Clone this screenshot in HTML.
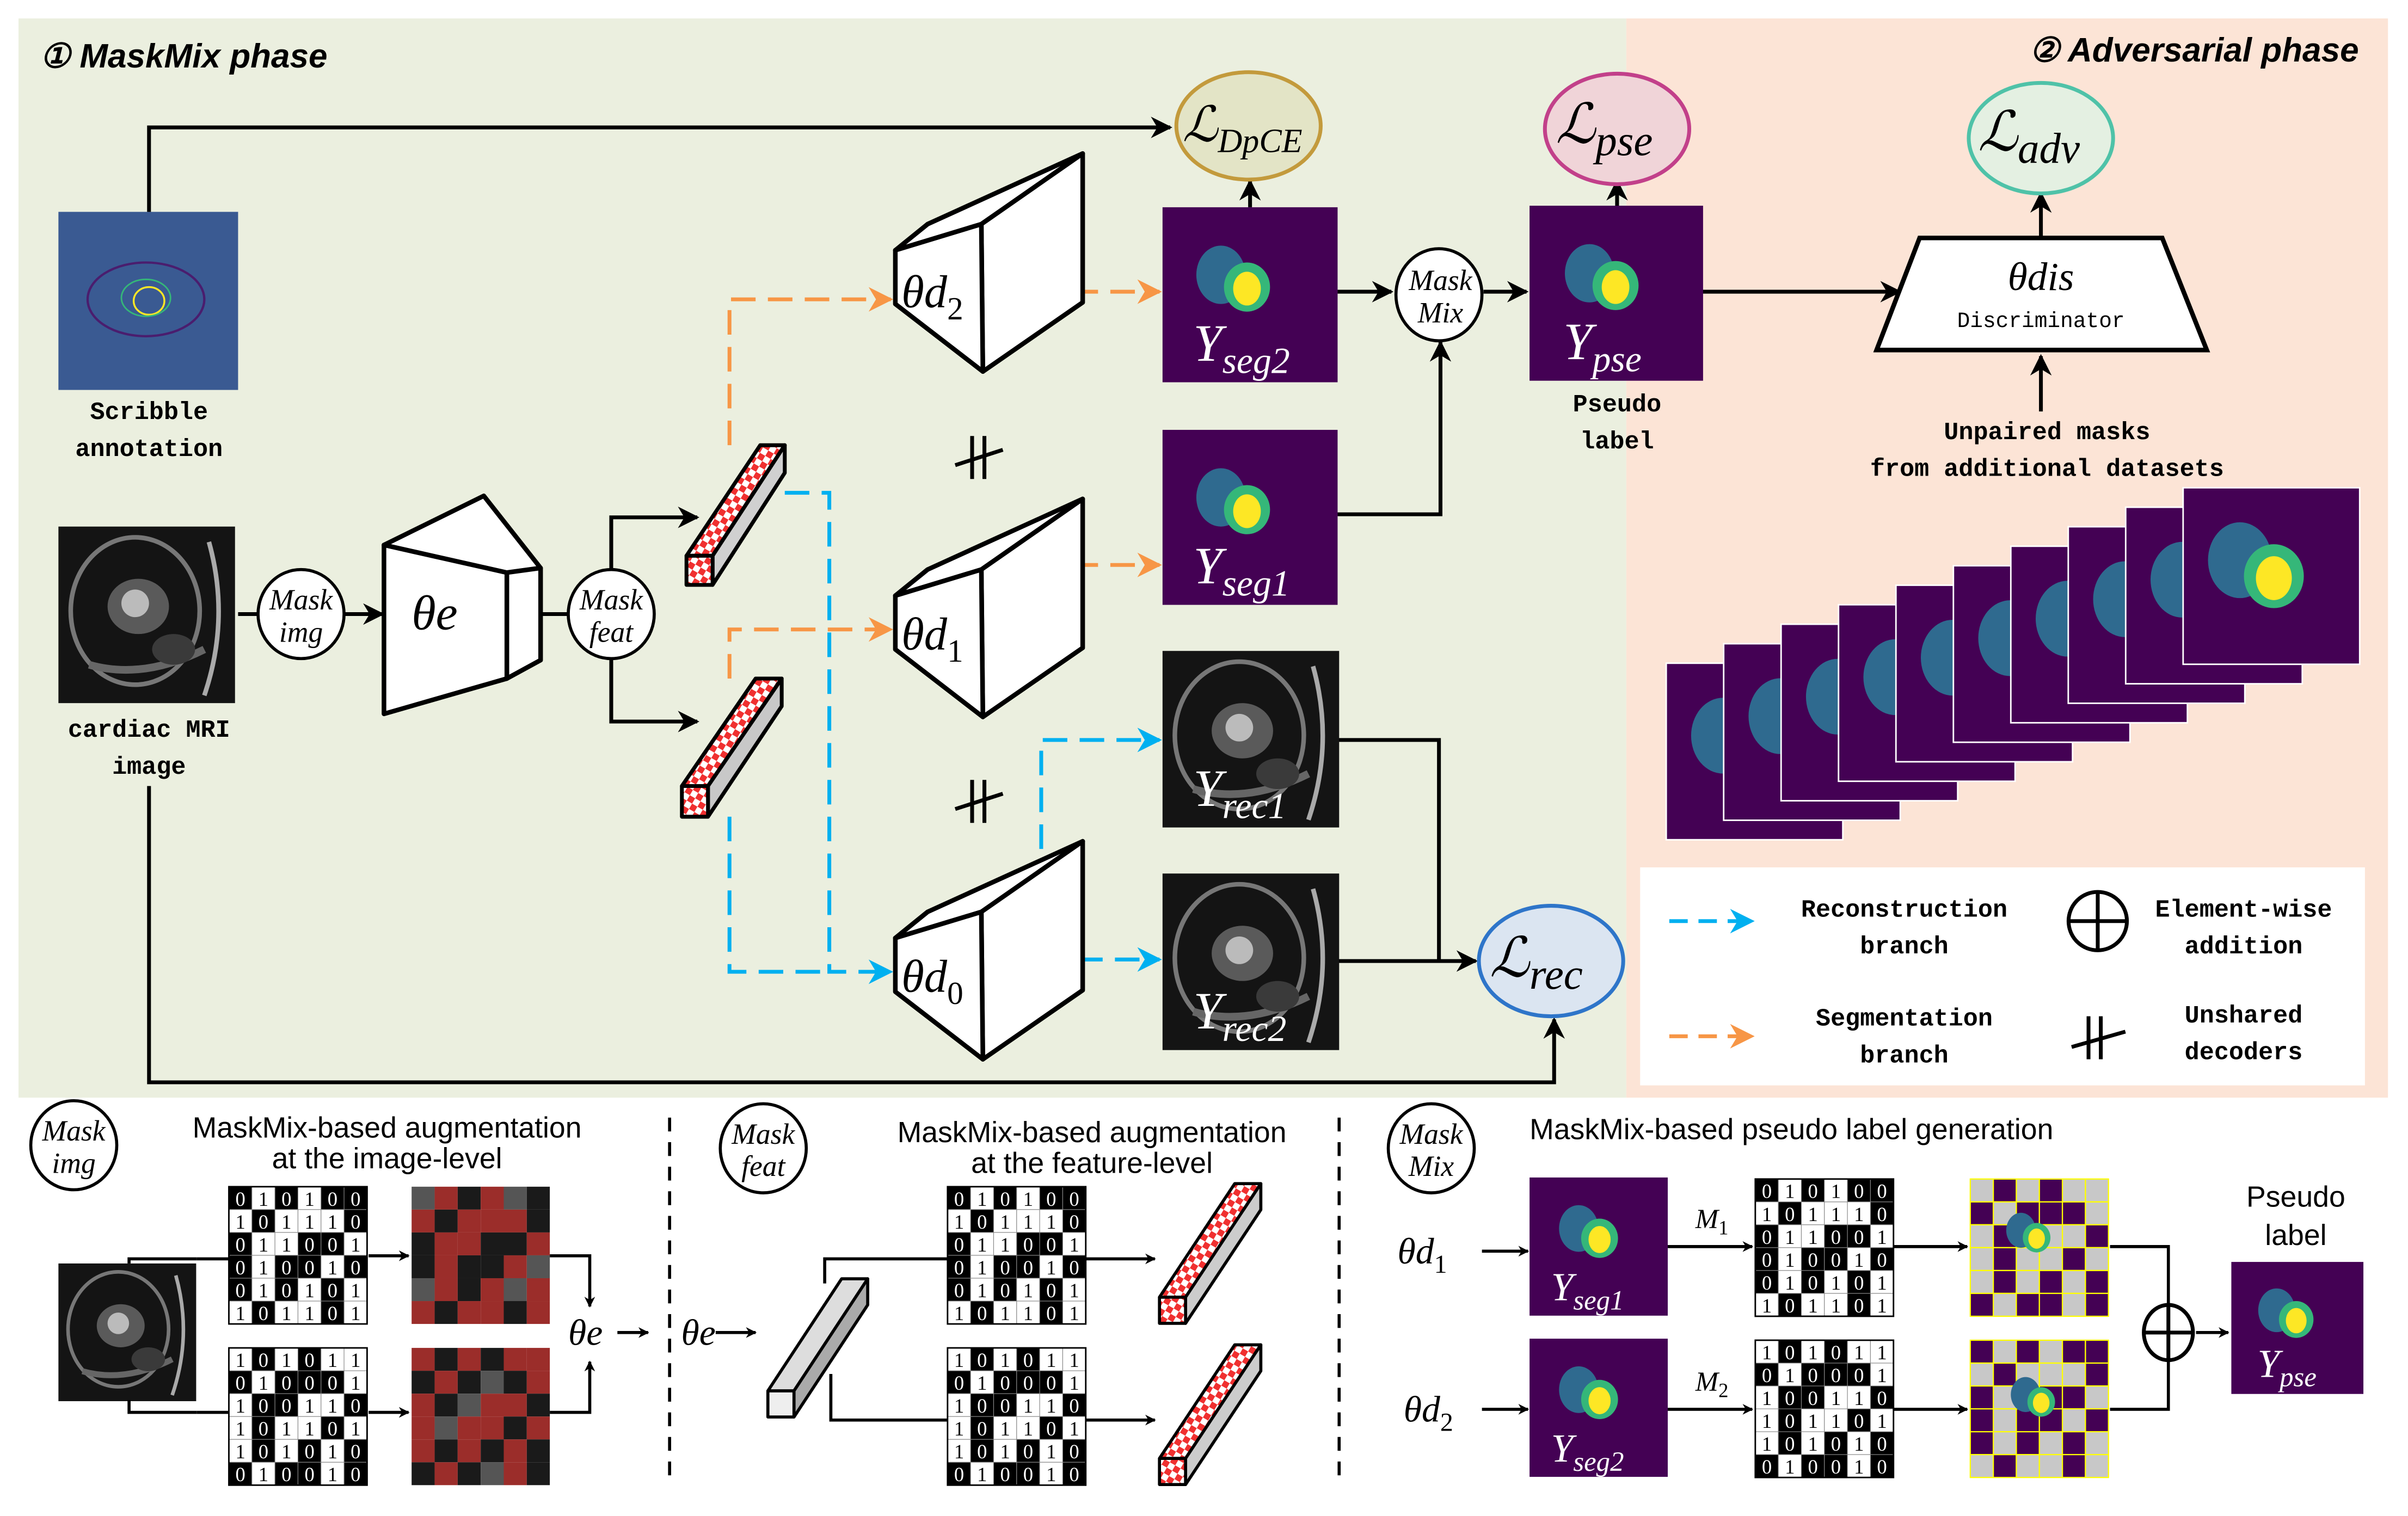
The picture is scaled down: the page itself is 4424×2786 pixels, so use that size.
<!DOCTYPE html>
<html><head><meta charset="utf-8"><style>
html,body{margin:0;padding:0;background:#fff}
svg{display:block}
.mono{font-family:"Liberation Mono",monospace;font-weight:bold;font-size:16px}
.sans{font-family:"Liberation Sans",sans-serif}
.m{font-family:"Liberation Serif",serif;font-style:italic}
</style></head><body>
<svg id="s" xmlns="http://www.w3.org/2000/svg" width="4424" height="2786" viewBox="0 0 1568 987.5">
<defs>
<marker id="ak" viewBox="0 0 10 10" refX="9" refY="5" markerWidth="7" markerHeight="7" orient="auto" markerUnits="userSpaceOnUse"><path d="M0,0 L10,5 L0,10 L3,5z" fill="#000"/></marker>
<marker id="ak2" viewBox="0 0 10 10" refX="9" refY="5" markerWidth="14" markerHeight="14" orient="auto" markerUnits="userSpaceOnUse"><path d="M0,0 L10,5 L0,10 L3,5z" fill="#000"/></marker>
<marker id="ao" viewBox="0 0 10 10" refX="9" refY="5" markerWidth="16" markerHeight="16" orient="auto" markerUnits="userSpaceOnUse"><path d="M0,0 L10,5 L0,10 L3,5z" fill="#f79646"/></marker>
<marker id="ab" viewBox="0 0 10 10" refX="9" refY="5" markerWidth="16" markerHeight="16" orient="auto" markerUnits="userSpaceOnUse"><path d="M0,0 L10,5 L0,10 L3,5z" fill="#00b0f0"/></marker>
<pattern id="chk" width="8" height="8" patternUnits="userSpaceOnUse" patternTransform="rotate(30)"><rect width="8" height="8" fill="#fff"/><rect width="4" height="4" fill="#f03030"/><rect x="4" y="4" width="4" height="4" fill="#f03030"/></pattern>
<g id="blob"><ellipse cx="-10" cy="-6" rx="16" ry="19" fill="#2f6a8f"/><ellipse cx="7" cy="2" rx="15" ry="16" fill="#35b779"/><ellipse cx="7" cy="3" rx="9" ry="11" fill="#fde725"/></g>
<g id="mri"><rect width="115" height="115" fill="#141414"/><ellipse cx="50" cy="55" rx="42" ry="48" fill="none" stroke="#777" stroke-width="3"/><ellipse cx="52" cy="52" rx="20" ry="18" fill="#5a5a5a"/><ellipse cx="50" cy="50" rx="9" ry="9" fill="#bbb"/><path d="M20,90 Q55,100 95,80" stroke="#666" stroke-width="5" fill="none"/><path d="M98,10 Q112,60 95,110" stroke="#aaa" stroke-width="3" fill="none"/><ellipse cx="75" cy="80" rx="14" ry="10" fill="#3a3a3a"/></g>
</defs>

<rect x="12" y="12" width="1047" height="703" fill="#ebefdf"/>
<rect x="1059" y="12" width="496" height="703" fill="#fce4d6"/>
<text x="26" y="44" class="sans" font-size="22" font-weight="bold" font-style="italic">① MaskMix phase</text>
<text x="1536" y="40" class="sans" font-size="22" font-weight="bold" font-style="italic" text-anchor="end">② Adversarial phase</text>

<rect x="38" y="138" width="117" height="116" fill="#3a5a92"/>
<ellipse cx="95" cy="195" rx="38" ry="24" fill="none" stroke="#4a1d6e" stroke-width="1.5"/>
<ellipse cx="97" cy="196" rx="10" ry="9" fill="none" stroke="#fde725" stroke-width="1.2"/>
<ellipse cx="95" cy="194" rx="16" ry="12" fill="none" stroke="#35b779" stroke-width="1"/>
<text x="97" y="273" class="mono" text-anchor="middle">Scribble</text>
<text x="97" y="297" class="mono" text-anchor="middle">annotation</text>

<use href="#mri" x="38" y="343"/>
<text x="97" y="480" class="mono" text-anchor="middle">cardiac MRI</text>
<text x="97" y="504" class="mono" text-anchor="middle">image</text>

<g stroke="#000" stroke-width="2.5" fill="none">
<path d="M97,138 V83 H762" marker-end="url(#ak2)"/>
<path d="M97,512 V705 H1012 V664" marker-end="url(#ak2)"/>
<path d="M155,400 H168"/>
<path d="M224,400 H249" marker-end="url(#ak2)"/>
<path d="M352,400 H370"/>
<path d="M398,372 V337 H454" marker-end="url(#ak2)"/>
<path d="M398,428 V470 H454" marker-end="url(#ak2)"/>
<path d="M871,190 H906" marker-end="url(#ak2)"/>
<path d="M871,335 H938 V223" marker-end="url(#ak2)"/>
<path d="M966,190 H994" marker-end="url(#ak2)"/>
<path d="M814,135 V118" marker-end="url(#ak2)"/>
<path d="M1053,140 V118" marker-end="url(#ak2)"/>
<path d="M1108,190 H1237" marker-end="url(#ak2)"/>
<path d="M1329,155 V126" marker-end="url(#ak2)"/>
<path d="M1329,268 V232" marker-end="url(#ak2)"/>
<path d="M871,482 H937 V626"/>
<path d="M871,626 H961" marker-end="url(#ak2)"/>
</g>

<g stroke="#000" stroke-width="2" fill="#fff">
<ellipse cx="196" cy="400" rx="28" ry="29"/>
<ellipse cx="398" cy="400" rx="28" ry="29"/>
<ellipse cx="937" cy="192" rx="28" ry="30"/>
</g>
<g class="m" font-size="19" text-anchor="middle">
<text x="196" y="397">Mask</text><text x="196" y="418">img</text>
<text x="398" y="397">Mask</text><text x="398" y="418">feat</text>
<text x="938" y="189">Mask</text><text x="938" y="210">Mix</text>
</g>

<g stroke="#000" stroke-width="3" fill="#fff" stroke-linejoin="round">
<polygon points="250,355 315,323 352,370 330,373"/>
<polygon points="330,373 352,370 352,430 330,442"/>
<polygon points="250,355 330,373 330,442 250,465"/>
</g>
<text x="283" y="410" class="m" font-size="32" text-anchor="middle">θe</text>

<g stroke="#000" stroke-width="2.5" stroke-linejoin="round">
<polygon points="447,362 495,290 511,290 464,362" fill="url(#chk)"/>
<polygon points="464,362 511,290 511,308 464,381" fill="#d0d0d0"/>
<rect x="447" y="362" width="17" height="19" fill="url(#chk)"/>
<polygon points="444,512 492,442 509,442 461,512" fill="url(#chk)"/>
<polygon points="461,512 509,442 509,460 461,532" fill="#c8c8c8"/>
<rect x="444" y="512" width="17" height="20" fill="url(#chk)"/>
</g>

<g fill="none" stroke-width="2.5" stroke-dasharray="16,8">
<path d="M475,290 V195 H580" stroke="#f79646" marker-end="url(#ao)"/>
<path d="M475,442 V410 H580" stroke="#f79646" marker-end="url(#ao)"/>
<path d="M511,321 H540 V633 H580" stroke="#00b0f0" marker-end="url(#ab)"/>
<path d="M475,532 V633 H540" stroke="#00b0f0"/>
<path d="M675,190 H755" stroke="#f79646" marker-end="url(#ao)"/>
<path d="M675,368 H755" stroke="#f79646" marker-end="url(#ao)"/>
<path d="M678,625 V482 H755" stroke="#00b0f0" marker-end="url(#ab)"/>
<path d="M678,625 H755" stroke="#00b0f0" marker-end="url(#ab)"/>
</g>

<g id="dec" stroke="#000" stroke-width="3" fill="#fff" stroke-linejoin="round">
<polygon points="583,163 604,146 705,100 639,146"/>
<polygon points="639,146 705,100 705,197 640,242"/>
<polygon points="583,163 639,146 640,242 583,198"/>
</g>
<use href="#dec" y="225"/>
<use href="#dec" y="448"/>
<g class="m" font-size="30">
<text x="587" y="200">θd<tspan font-size="21" dy="8" font-style="normal">2</tspan></text>
<text x="587" y="423">θd<tspan font-size="21" dy="8" font-style="normal">1</tspan></text>
<text x="587" y="646">θd<tspan font-size="21" dy="8" font-style="normal">0</tspan></text>
</g>
<g stroke="#000" stroke-width="2.5">
<path d="M633,284 V312 M641,284 V312 M622,303 L653,293"/>
<path d="M633,508 V536 M641,508 V536 M622,527 L653,517"/>
</g>

<rect x="757" y="135" width="114" height="114" fill="#440154"/><use href="#blob" x="805" y="185"/>
<rect x="757" y="280" width="114" height="114" fill="#440154"/><use href="#blob" x="805" y="330"/>
<use href="#mri" x="757" y="424"/>
<use href="#mri" x="757" y="569"/>
<rect x="996" y="134" width="113" height="114" fill="#440154"/><use href="#blob" x="1045" y="184"/>
<g class="m" font-size="34" fill="#fff">
<text x="777" y="235">Y<tspan font-size="24" dy="8">seg2</tspan></text>
<text x="777" y="380">Y<tspan font-size="24" dy="8">seg1</tspan></text>
<text x="777" y="525">Y<tspan font-size="24" dy="8">rec1</tspan></text>
<text x="777" y="670">Y<tspan font-size="24" dy="8">rec2</tspan></text>
<text x="1018" y="234">Y<tspan font-size="24" dy="8">pse</tspan></text>
</g>
<text x="1053" y="268" class="mono" text-anchor="middle">Pseudo</text>
<text x="1053" y="292" class="mono" text-anchor="middle">label</text>

<ellipse cx="813" cy="82" rx="47" ry="35" fill="#e3e4c6" stroke="#c39a3c" stroke-width="2.5"/>
<text x="770" y="92" class="m" font-size="32">ℒ<tspan font-size="22" dy="7">DpCE</tspan></text>
<ellipse cx="1053" cy="84" rx="47" ry="36" fill="#f0d4d8" stroke="#c2408a" stroke-width="2.5"/>
<text x="1013" y="93" class="m" font-size="36">ℒ<tspan font-size="28" dy="8">pse</tspan></text>
<ellipse cx="1329" cy="90" rx="47" ry="36" fill="#e4f0e2" stroke="#4fc2a8" stroke-width="2.5"/>
<text x="1288" y="98" class="m" font-size="36">ℒ<tspan font-size="28" dy="8">adv</tspan></text>
<ellipse cx="1010" cy="626" rx="47" ry="36" fill="#dbe5f1" stroke="#2e75c9" stroke-width="2.5"/>
<text x="970" y="636" class="m" font-size="36">ℒ<tspan font-size="28" dy="8">rec</tspan></text>

<polygon points="1250,155 1408,155 1437,228 1222,228" fill="#fff" stroke="#000" stroke-width="3"/>
<text x="1329" y="189" class="m" font-size="26" text-anchor="middle">θdis</text>
<text x="1329" y="213" font-family="Liberation Mono,monospace" font-size="14" text-anchor="middle">Discriminator</text>
<text x="1333" y="286" class="mono" text-anchor="middle">Unpaired masks</text>
<text x="1333" y="310" class="mono" text-anchor="middle">from additional datasets</text>

<g id="stack"></g>

<rect x="1068" y="565" width="472" height="142" fill="#fff"/>
<path d="M1087,600 H1141" stroke="#00b0f0" stroke-width="2.5" stroke-dasharray="12,7" fill="none" marker-end="url(#ab)"/>
<path d="M1087,675 H1141" stroke="#f79646" stroke-width="2.5" stroke-dasharray="12,7" fill="none" marker-end="url(#ao)"/>
<g class="mono" text-anchor="middle">
<text x="1240" y="597">Reconstruction</text><text x="1240" y="621">branch</text>
<text x="1240" y="668">Segmentation</text><text x="1240" y="692">branch</text>
<text x="1461" y="597">Element-wise</text><text x="1461" y="621">addition</text>
<text x="1461" y="666">Unshared</text><text x="1461" y="690">decoders</text>
</g>
<g stroke="#000" stroke-width="2.5" fill="none">
<circle cx="1366" cy="600" r="19"/><path d="M1347,600 H1385 M1366,581 V619"/>
<path d="M1360,662 V690 M1368,662 V690 M1349,682 L1384,672"/>
</g>

<g stroke="#000" stroke-width="2" stroke-dasharray="9,7"><path d="M436,728 V965"/><path d="M872,728 V965"/></g>
<g stroke="#000" stroke-width="2" fill="#fff">
<ellipse cx="48" cy="746" rx="28" ry="29"/><ellipse cx="497" cy="748" rx="28" ry="29"/><ellipse cx="932" cy="748" rx="28" ry="29"/>
</g>
<g class="m" font-size="19" text-anchor="middle">
<text x="48" y="743">Mask</text><text x="48" y="764">img</text>
<text x="497" y="745">Mask</text><text x="497" y="766">feat</text>
<text x="932" y="745">Mask</text><text x="932" y="766">Mix</text>
</g>
<g class="sans" font-size="19" text-anchor="middle">
<text x="252" y="741">MaskMix-based augmentation</text><text x="252" y="761">at the image-level</text>
<text x="711" y="744">MaskMix-based augmentation</text><text x="711" y="764">at the feature-level</text>
<text x="996" y="742" text-anchor="start">MaskMix-based pseudo label generation</text>
<text x="1495" y="786">Pseudo</text><text x="1495" y="811">label</text>
</g>

<use href="#mri" transform="translate(38,823) scale(0.78)"/>
<g stroke="#000" stroke-width="2" fill="none">
<path d="M128,820 H149"/><path d="M128,920 H149"/><path d="M84,823 V820 H128"/><path d="M84,912 V920 H128"/>
<path d="M240,818 H266" marker-end="url(#ak)"/><path d="M240,920 H266" marker-end="url(#ak)"/>
<path d="M358,818 H384 V851" marker-end="url(#ak)"/><path d="M358,920 H384 V887" marker-end="url(#ak)"/>
<path d="M402,868 H422" marker-end="url(#ak)"/>
<path d="M466,868 H492" marker-end="url(#ak)"/>
<path d="M706,820 H752" marker-end="url(#ak)"/><path d="M706,925 H752" marker-end="url(#ak)"/>
<path d="M537,836 V820 H617"/><path d="M541,895 V925 H617"/>
<path d="M965,815 H995" marker-end="url(#ak)"/><path d="M965,918 H995" marker-end="url(#ak)"/>
<path d="M1086,812 H1141" marker-end="url(#ak)"/><path d="M1086,918 H1141" marker-end="url(#ak)"/>
<path d="M1232,812 H1281" marker-end="url(#ak)"/><path d="M1232,918 H1281" marker-end="url(#ak)"/>
<path d="M1374,812 H1412 V850 M1374,918 H1412 V886"/>
<path d="M1430,868 H1451" marker-end="url(#ak)"/>
</g>
<g stroke="#000" stroke-width="2.5" fill="none"><ellipse cx="1412" cy="868" rx="16" ry="18"/><path d="M1396,868 H1428 M1412,850 V886"/></g>
<g class="m" font-size="24">
<text x="370" y="876">θe</text><text x="466" y="876" text-anchor="end">θe</text>
<text x="910" y="823">θd<tspan font-size="17" dy="6" font-style="normal">1</tspan></text>
<text x="914" y="926">θd<tspan font-size="17" dy="6" font-style="normal">2</tspan></text>
<text x="1104" y="800" font-size="18">M<tspan font-size="13" dy="4" font-style="normal">1</tspan></text>
<text x="1104" y="906" font-size="18">M<tspan font-size="13" dy="4" font-style="normal">2</tspan></text>
</g>
<g stroke="#000" stroke-width="2" stroke-linejoin="round">
<polygon points="500,906 548,833 565,833 517,906" fill="#ddd"/>
<polygon points="517,906 565,833 565,850 517,923" fill="#aaa"/>
<rect x="500" y="906" width="17" height="17" fill="#eee"/>
</g>
<g stroke="#000" stroke-width="2" stroke-linejoin="round">
<polygon points="755,845 804,771 821,771 772,845" fill="url(#chk)"/>
<polygon points="772,845 821,771 821,788 772,862" fill="#ccc"/>
<rect x="755" y="845" width="17" height="17" fill="url(#chk)"/>
<polygon points="755,950 804,876 821,876 772,950" fill="url(#chk)"/>
<polygon points="772,950 821,876 821,893 772,967" fill="#ccc"/>
<rect x="755" y="950" width="17" height="17" fill="url(#chk)"/>
</g>
<rect x="996" y="767" width="90" height="90" fill="#440154"/><use href="#blob" transform="translate(1036,805) scale(0.8)"/>
<rect x="996" y="872" width="90" height="90" fill="#440154"/><use href="#blob" transform="translate(1036,910) scale(0.8)"/>
<rect x="1453" y="822" width="86" height="86" fill="#440154"/><use href="#blob" transform="translate(1490,858) scale(0.75)"/>
<g class="m" font-size="26" fill="#fff">
<text x="1010" y="847">Y<tspan font-size="18" dy="6">seg1</tspan></text>
<text x="1010" y="952">Y<tspan font-size="18" dy="6">seg2</tspan></text>
<text x="1470" y="897">Y<tspan font-size="18" dy="6">pse</tspan></text>
</g>
<g id="grids"></g>
</svg>
<script>
var NS="http://www.w3.org/2000/svg",s=document.getElementById("grids"),st=document.getElementById("stack");
function el(t,a,p){var e=document.createElementNS(NS,t);for(var k in a)e.setAttribute(k,a[k]);(p||s).appendChild(e);return e;}
var A=["010100","101110","011001","010010","010101","101101"],B=["101011","010001","100110","101101","101010","010010"];
function grid(x,y,P,mode){var cw=15,ch=14.9;for(var r=0;r<6;r++)for(var c=0;c<6;c++){var v=P[r][c];
 if(mode=="b"){el("rect",{x:x+c*cw,y:y+r*ch,width:cw,height:ch,fill:v=="0"?"#000":"#fff",stroke:"#888","stroke-width":0.4});
  var t=el("text",{x:x+c*cw+cw/2,y:y+r*ch+ch-2.5,"text-anchor":"middle","font-family":"Liberation Serif,serif","font-size":13,fill:v=="0"?"#fff":"#000"});t.textContent=v;}
 else if(mode=="r"){el("rect",{x:x+c*cw,y:y+r*ch,width:cw,height:ch,fill:v=="1"?"#9b2d2a":(((r*7+c*3)%4)?"#1a1a1a":"#555")});}
 else {el("rect",{x:x+c*cw,y:y+r*ch,width:cw,height:ch,fill:v=="1"?"#440154":"#c8c8c8",stroke:"#ff0","stroke-width":0.8});}}
 if(mode=="b")el("rect",{x:x,y:y,width:90,height:89.4,fill:"none",stroke:"#000","stroke-width":1});}
grid(149,773,A,"b");grid(149,878,B,"b");
grid(268,773,A,"r");grid(268,878,B,"r");
grid(617,773,A,"b");grid(617,878,B,"b");
grid(1143,768,A,"b");grid(1143,873,B,"b");
grid(1283,768,A,"p");grid(1283,873,B,"p");
el("use",{href:"#blob",transform:"translate(1322,805) scale(0.6)"});
el("use",{href:"#blob",transform:"translate(1325,912) scale(0.6)"});
for(var i=0;i<10;i++){var x=1085+i*37.4,y=432-i*12.7;
 el("rect",{x:x,y:y,width:115,height:115,fill:"#440154",stroke:"#fff","stroke-width":1},st);
 el("use",{href:"#blob",transform:"translate("+(x+50)+","+(y+55)+") scale(1.3)"},st);}
</script>
</body></html>
